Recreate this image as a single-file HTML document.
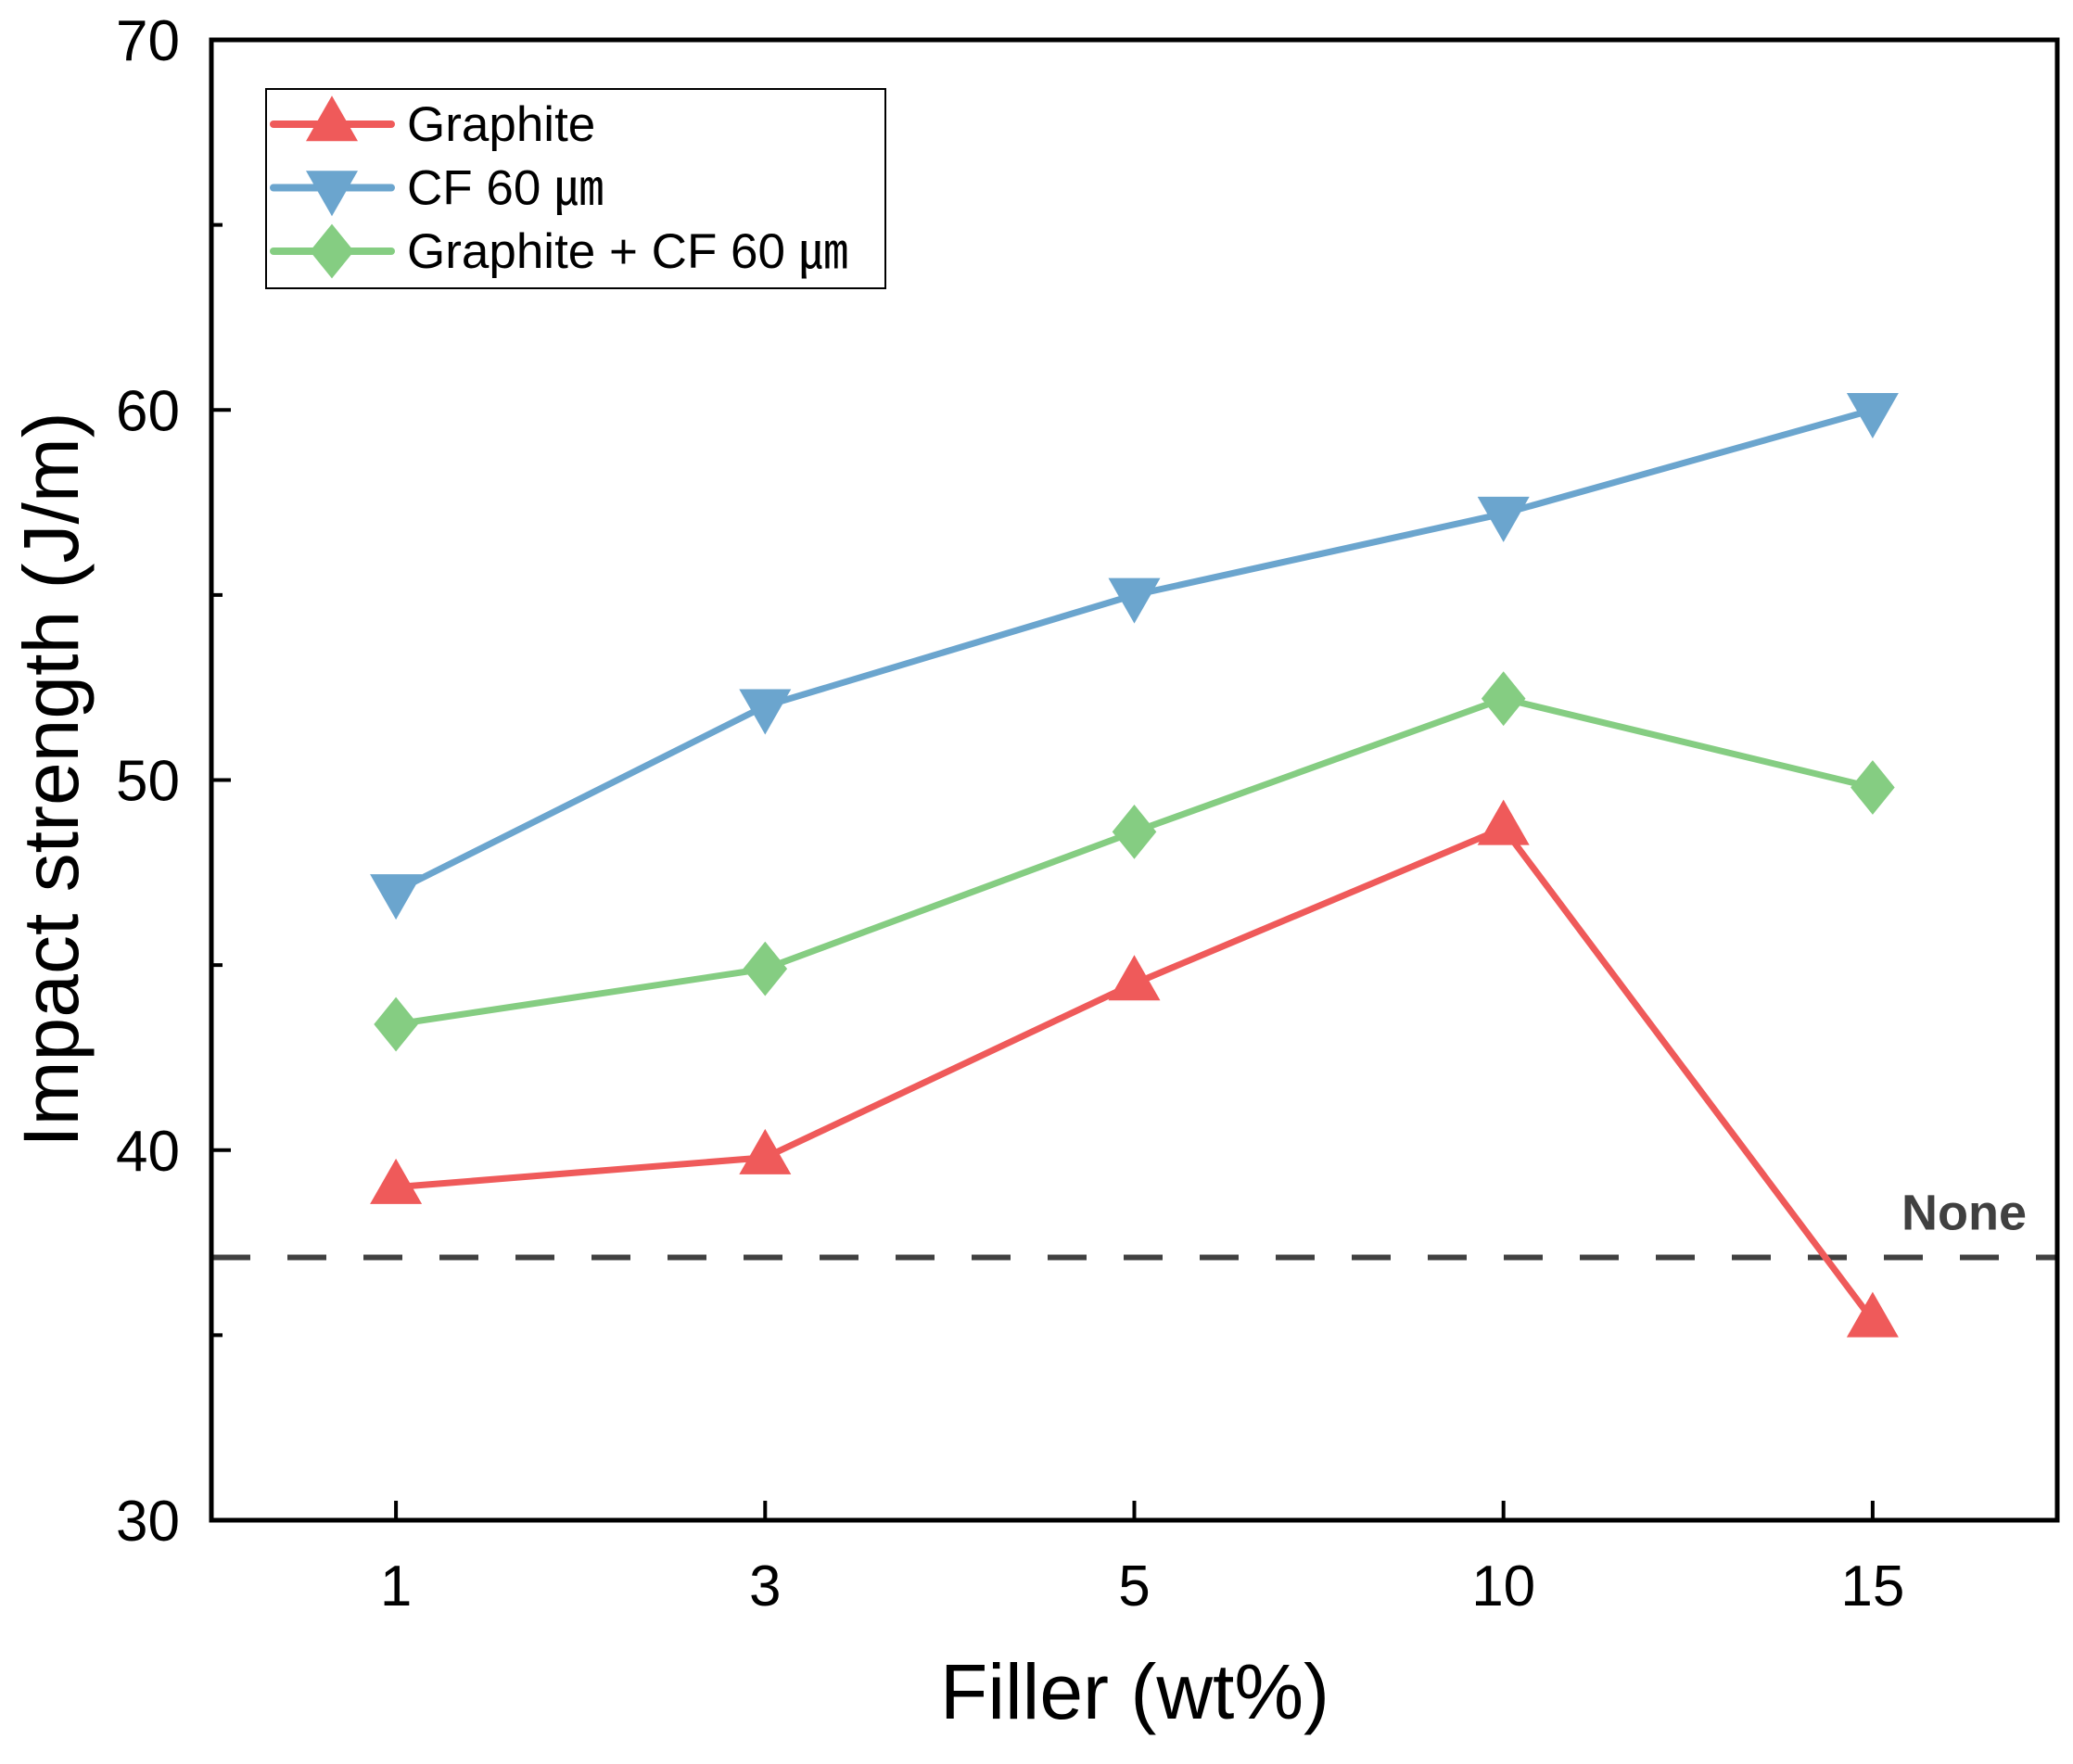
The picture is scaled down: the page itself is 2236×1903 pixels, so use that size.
<!DOCTYPE html>
<html><head><meta charset="utf-8"><style>html,body{margin:0;padding:0;background:#fff}svg{display:block}</style></head>
<body>
<svg id="chart" xmlns="http://www.w3.org/2000/svg" width="2236" height="1903" viewBox="0 0 2236 1903" font-family="Liberation Sans, Arial, sans-serif">
<rect width="2236" height="1903" fill="#fff"/>
<g id="plot"></g>
</svg>
<script>
const categories = ["1","3","5","10","15"];
const graphite = [39.0, 39.8, 44.5, 48.7, 35.4];
const cf60 = [47.0, 52.0, 55.0, 57.2, 60.0];
const mixed = [43.4, 44.9, 48.6, 52.2, 49.8];
const noneValue = 37.1;
const yTicks = [30, 40, 50, 60, 70];
const yMinorTicks = [35, 45, 55, 65];

const L=228, R=2219, T=43, B=1640, yMin=30, yMax=70;
const NS="http://www.w3.org/2000/svg";
const g=document.getElementById('plot');
const step=(R-L)/categories.length;
function xs(i){return L+step*(i+0.5);}
function ys(v){return B-(v-yMin)/(yMax-yMin)*(B-T);}
function el(tag,attrs,parent){const e=document.createElementNS(NS,tag);for(const k in attrs)e.setAttribute(k,attrs[k]);(parent||g).appendChild(e);return e;}

let nl=el('line',{x1:L,x2:R,y1:ys(noneValue),y2:ys(noneValue),stroke:'#404040','stroke-width':6,'stroke-dasharray':'42 40'});


let nt=el('text',{x:2186,y:ys(noneValue)-30,'text-anchor':'end','font-size':54,'font-weight':'bold',fill:'#404040'});
nt.textContent='None';



function marker(type,x,y,color,parent){
  const s=28;
  if(type==='up') return el('polygon',{points:`${x},${y-s*1.1} ${x-s},${y+s*0.65} ${x+s},${y+s*0.65}`,fill:color},parent);
  if(type==='down') return el('polygon',{points:`${x},${y+s*1.1} ${x-s},${y-s*0.65} ${x+s},${y-s*0.65}`,fill:color},parent);
  return el('polygon',{points:`${x},${y-s*1.05} ${x+s*0.85},${y} ${x},${y+s*1.05} ${x-s*0.85},${y}`,fill:color},parent);
}
const series=[
 {name:'graphite',vals:graphite,color:'#EF5A5A',m:'up'},
 {name:'cf-60',vals:cf60,color:'#6BA5CE',m:'down'},
 {name:'graphite-cf-60',vals:mixed,color:'#85CD82',m:'diamond'}
];
series.forEach(s=>{
  const pts=s.vals.map((v,i)=>xs(i)+','+ys(v)).join(' ');
  const pl=el('polyline',{points:pts,fill:'none',stroke:s.color,'stroke-width':7,'stroke-linejoin':'round'});
  
  
  s.vals.forEach((v,i)=>{
    const mk=marker(s.m,xs(i),ys(v),s.color);
    
    
  });
});

let fr=el('rect',{x:L,y:T,width:R-L,height:B-T,fill:'none',stroke:'#000','stroke-width':5});



yTicks.forEach(v=>{
  el('line',{x1:L,x2:L+21,y1:ys(v),y2:ys(v),stroke:'#000','stroke-width':4});
  const t=el('text',{x:194,y:ys(v)+22,'text-anchor':'end','font-size':62});
  t.textContent=v;
  
  
});
yMinorTicks.forEach(v=>{el('line',{x1:L,x2:L+12,y1:ys(v),y2:ys(v),stroke:'#000','stroke-width':4});});
categories.forEach((c,i)=>{
  el('line',{x1:xs(i),x2:xs(i),y1:B,y2:B-21,stroke:'#000','stroke-width':4});
  const t=el('text',{x:xs(i),y:1732,'text-anchor':'middle','font-size':62});
  t.textContent=c;
  
  
});
let xt=el('text',{x:1224,y:1854,'text-anchor':'middle','font-size':84});
xt.textContent='Filler (wt%)';


let yt=el('text',{x:0,y:0,'text-anchor':'middle','font-size':84,transform:'translate(84,841) rotate(-90)'});
yt.textContent='Impact strength (J/m)';



const lg=el('g',{});


el('rect',{x:287,y:96,width:668,height:215,fill:'#fff',stroke:'#000','stroke-width':2},lg);
const labels=['Graphite','CF 60 \u339B','Graphite + CF 60 \u339B'];
series.forEach((s,i)=>{
  const y=134+i*68.5;
  const row=el('g',{},lg);
  
  
  el('line',{x1:295,x2:422,y1:y,y2:y,stroke:s.color,'stroke-width':8,'stroke-linecap':'round'},row);
  marker(s.m,358,y,s.color,row);
  const t=el('text',{x:439,y:y+18,'font-size':53},row);
  t.textContent=labels[i];
});
</script>
</body></html>
